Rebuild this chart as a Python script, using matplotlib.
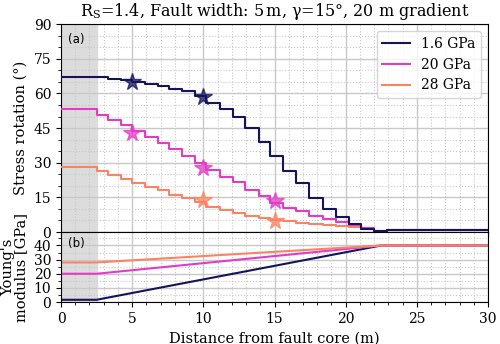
import matplotlib.pyplot as plt
import matplotlib
from matplotlib.ticker import MultipleLocator

matplotlib.rcParams['font.family'] = 'DejaVu Serif'
matplotlib.rcParams['mathtext.fontset'] = 'dejavuserif'

# Step edges along the distance axis (m)
edges = [0, 2.5, 3.3, 4.2, 5.0, 5.9, 6.8, 7.6, 8.5, 9.4, 10.2, 11.2, 12.1, 12.9,
         13.9, 14.7, 15.6, 16.5, 17.4, 18.4, 19.3, 20.2, 21.1, 22.0, 22.9, 30]

# Stress rotation (deg) on each step
rot_16 = [67.2, 67.0, 66.3, 65.6, 64.8, 64.2, 63.0, 62.0, 61.0, 58.8, 56.0, 53.1, 49.9,
          44.9, 39.1, 33.0, 26.6, 21.1, 14.6, 10.0, 6.3, 3.3, 1.4, 0.4, 0.9, 0.9]
rot_20 = [53.3, 50.8, 48.5, 46.2, 43.8, 41.3, 38.6, 36.0, 33.0, 30.0, 26.8, 24.0, 21.6,
          18.0, 15.5, 12.5, 10.5, 9.2, 7.0, 5.5, 4.2, 3.0, 1.6, 0.3, 0.8, 0.8]
rot_28 = [28.3, 26.6, 24.8, 22.8, 21.3, 19.6, 18.0, 16.2, 14.6, 12.8, 11.0, 9.6, 8.2,
          7.0, 6.0, 5.2, 4.6, 4.0, 3.5, 3.0, 2.5, 2.0, 1.3, 0.3, 0.8, 0.8]

# Star markers
star_x_16, star_y_16 = [5, 10], [65.0, 58.5]
star_x_20, star_y_20 = [5, 10, 15], [42.7, 27.6, 13.4]
star_x_28, star_y_28 = [10, 15], [13.8, 4.9]

# Young's modulus profiles
e_x = [0, 2.5, 22.5, 30]
e_16 = [1.6, 1.6, 40, 40]
e_20 = [20, 20, 40, 40]
e_28 = [28, 28, 40, 40]

labels = ['1.6 GPa', '20 GPa', '28 GPa']
colors = ['#14145a', '#e23cc6', '#fa8462']

fig = plt.figure(figsize=(5, 3.44), dpi=100)
gs = fig.add_gridspec(2, 1, height_ratios=[208, 70], hspace=0,
                      left=0.122, right=0.976, top=0.930, bottom=0.122)
ax = fig.add_subplot(gs[0])
ax2 = fig.add_subplot(gs[1], sharex=ax)

rots = [rot_16, rot_20, rot_28]
stars = [(star_x_16, star_y_16), (star_x_20, star_y_20), (star_x_28, star_y_28)]
for i, (r, c, lab) in enumerate(zip(rots, colors, labels)):
    ax.step(edges, r, where='post', color=c, lw=1.5, label=lab, zorder=5 - i)
    sx, sy = stars[i]
    ax.plot(sx, sy, '*', color=c, ms=13, alpha=0.75, zorder=6)

for e, c in zip([e_16, e_20, e_28], colors):
    ax2.plot(e_x, e, color=c, lw=1.5)

for a in (ax, ax2):
    a.axvspan(0, 2.5, color='#dcdcdc', zorder=0)
    a.xaxis.set_major_locator(MultipleLocator(5))
    a.xaxis.set_minor_locator(MultipleLocator(1))
    a.grid(which='major', color='#c8c8c8', lw=1)
    a.grid(which='minor', color='#c8c8c8', lw=0.8, ls=':')
    a.set_axisbelow(True)
    a.tick_params(labelsize=10)

ax.set_xlim(0, 30)
ax.set_ylim(0, 90)
ax.yaxis.set_major_locator(MultipleLocator(15))
ax.yaxis.set_minor_locator(MultipleLocator(5))
ax.tick_params(axis='x', labelbottom=False)
ax.set_ylabel('Stress rotation (°)', fontsize=10.5)
ax.set_title(r'R$_\mathrm{S}$=1.4, Fault width: 5$\,$m, γ=15°, 20 m gradient', fontsize=11.5)
ax.text(0.5, 86, '(a)', family='DejaVu Sans', fontsize=8.5, va='top')
ax.legend(loc='upper right', fontsize=10, framealpha=0.8)

ax2.set_ylim(0, 49.5)
ax2.set_yticks([0, 10, 20, 30, 40])
ax2.yaxis.set_minor_locator(MultipleLocator(5))
ax2.set_ylabel("Young's\nmodulus [GPa]", fontsize=10.5, linespacing=0.9)
ax2.set_xlabel('Distance from fault core (m)', fontsize=10.5)
ax2.text(0.5, 46, '(b)', family='DejaVu Sans', fontsize=8.5, va='top')

fig.savefig('out.png', dpi=100)
